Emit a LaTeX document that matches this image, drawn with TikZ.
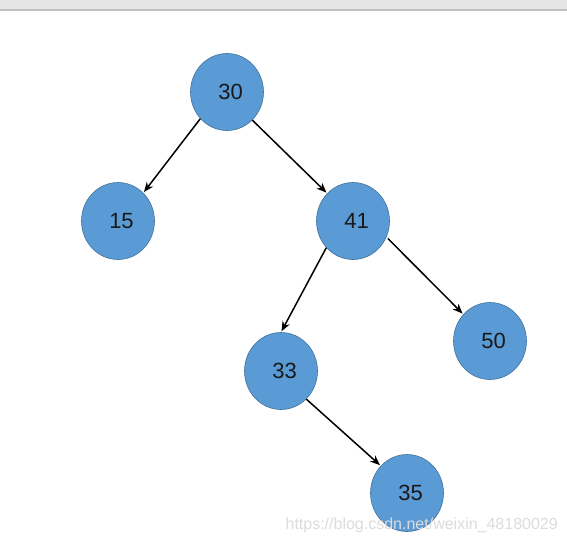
\documentclass[tikz,border=0pt]{standalone}
\usepackage{fontspec}
\setmainfont{Liberation Sans}
\usetikzlibrary{shapes.geometric,arrows.meta}
\definecolor{nodefill}{HTML}{5B9BD5}
\definecolor{nodeedge}{HTML}{41719C}
\definecolor{topbar}{HTML}{E5E5E5}
\definecolor{topline}{HTML}{C0C0C0}
\definecolor{wm}{HTML}{DCDCDC}
\newcommand{\nlab}[1]{\hspace*{7pt}#1}
\tikzset{
  treenode/.style={ellipse, fill=nodefill, draw=nodeedge, line width=0.6pt,
    minimum width=73pt, minimum height=77pt, inner sep=0pt,
    font=\fontsize{22}{24}\selectfont, text=black!90},
  treeedge/.style={-{Stealth[length=10pt,width=8pt]}, line width=1.5pt, black,
    shorten >=1pt}
}
\begin{document}
\begin{tikzpicture}[x=1pt,y=-1pt]
\useasboundingbox (0,0) rectangle (567,542);
\fill[white] (0,0) rectangle (567,542);
\fill[topbar] (0,0) rectangle (567,9);
\fill[topline] (0,9) rectangle (567,10.5);
\node[treenode] (n30) at (227,92) {\nlab{30}};
\node[treenode] (n15) at (118,221) {\nlab{15}};
\node[treenode] (n41) at (353,221) {\nlab{41}};
\node[treenode] (n33) at (281,371) {\nlab{33}};
\node[treenode] (n50) at (490,341) {\nlab{50}};
\node[treenode] (n35) at (407,493) {\nlab{35}};
\draw[treeedge] (n30.225) -- (n15.48);
\draw[treeedge] (n30.312) -- (n41.133);
\draw[treeedge] (n41.225) -- (n33.90);
\draw[treeedge] ([shift={(2,0)}]n41.332) -- (n50.135);
\draw[treeedge] (n33.312) -- (n35.134);
\node[anchor=base east, text=wm, font=\fontsize{16}{18}\selectfont, inner sep=0pt] (wmark) at (558,529) {https://blog.csdn.net/weixin\_48180029};
\end{tikzpicture}
\end{document}
